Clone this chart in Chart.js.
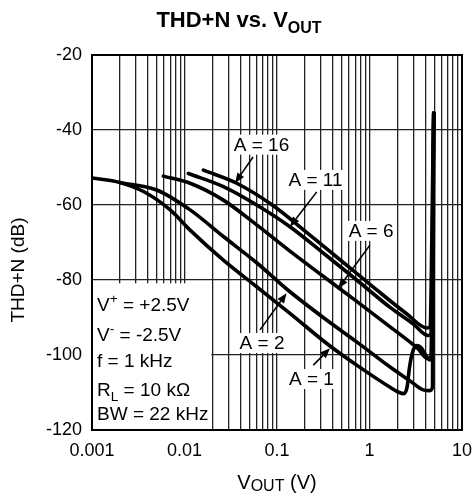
<!DOCTYPE html>
<html>
<head>
<meta charset="utf-8">
<script src="https://cdn.jsdelivr.net/npm/chart.js@4/dist/chart.umd.min.js"></script>
<style>
  html,body{margin:0;padding:0;background:#fff}
  #wrap{width:474px;height:499px}
</style>
</head>
<body>
<div id="wrap"><canvas id="thdChart" width="474" height="499"></canvas></div>
<script>
// THD+N vs VOUT
const decadeTicks = [0.001, 0.01, 0.1, 1, 10];
const yTicks = [-120, -100, -80, -60, -40, -20];

const a1V  = [0.001, 0.002, 0.0036, 0.007, 0.0115, 0.0263, 0.0603, 0.138, 0.374, 0.727, 1.67, 2.1, 2.35, 2.55, 2.7, 2.9, 3.2, 3.6, 4.1, 4.5, 4.7, 4.95];
const a1dB = [-52.8, -54.0, -56.4, -61.3, -66.7, -74.7, -81.8, -88.9, -97.6, -102.7, -108.6, -110.0, -110.3, -108.5, -103.5, -99.5, -97.5, -98.0, -100.2, -101.3, -101.0, -35.5];

const a2V  = [0.002, 0.005, 0.0115, 0.0263, 0.0603, 0.127, 0.316, 0.727, 1.67, 2.74, 3.8, 4.5, 4.8, 4.97];
const a2dB = [-54.0, -56.0, -61.3, -68.4, -75.4, -82.4, -90.0, -96.5, -103.2, -106.9, -109.3, -109.5, -108.5, -35.5];

const a6V  = [0.0059, 0.0115, 0.0263, 0.0603, 0.138, 0.316, 0.727, 1.67, 3.3, 4.3, 4.6, 4.95];
const a6dB = [-52.3, -54.2, -58.7, -65.3, -72.3, -79.0, -85.7, -92.5, -98.2, -101.0, -101.0, -35.5];

const a11V  = [0.011, 0.0263, 0.0603, 0.138, 0.316, 0.727, 1.67, 3.0, 4.3, 4.6, 4.95];
const a11dB = [-51.6, -55.1, -60.0, -65.8, -72.8, -80.0, -87.3, -91.8, -94.8, -94.5, -35.5];

const a16V  = [0.016, 0.0367, 0.0912, 0.209, 0.48, 1.1, 2.52, 4.2, 4.5, 4.93];
const a16dB = [-50.7, -54.2, -60.2, -67.3, -74.6, -81.9, -89.0, -92.8, -92.5, -35.5];

// curve labels: text, label centre (V, dB), arrow from/to (V, dB)
const curveLabels = [
  {text:'A = 16', at:[0.068, -43.9],  from:[0.0551, -47.2], to:[0.0352, -54.1]},
  {text:'A = 11', at:[0.261, -53.3],  from:[0.269, -56.5],  to:[0.138, -65.8]},
  {text:'A = 6',  at:[1.04, -66.9],   from:[1.01, -70.7],   to:[0.46, -82.2]},
  {text:'A = 2',  at:[0.0689, -96.8], from:[0.0655, -93.3], to:[0.127, -83.5]},
  {text:'A = 1',  at:[0.236, -106.4], from:[0.247, -102.7], to:[0.374, -98.2]}
];

// conditions box text, one baseline (dB) per line
const condLines = [
  {dB:-88.3,  parts:[{t:'V'},{t:'+',sup:true},{t:' = +2.5V'}]},
  {dB:-96.3,  parts:[{t:'V'},{t:'-',sup:true},{t:' = -2.5V'}]},
  {dB:-103.2, parts:[{t:'f = 1 kHz'}]},
  {dB:-110.9, parts:[{t:'R'},{t:'L',sub:true},{t:' = 10 k\u03A9'}]},
  {dB:-117.3, parts:[{t:'BW = 22 kHz'}]}
];
const condBox = {v0:0.001, v1:0.02, dB0:-120, dB1:-80.6};

const FONT = "'Liberation Sans', Arial, Helvetica, sans-serif";

const pts = (vs, ds) => vs.map((v,i)=>({x:v, y:ds[i]}));

// grid values 1..9 per decade
const gridVals = [];
decadeTicks.slice(0,-1).forEach(d=>{ for(let m=1;m<10;m++) gridVals.push(+(d*m).toPrecision(3)); });
gridVals.push(10);

function rich(ctx, parts, x, y, size, opts={}){
  const weight = opts.bold ? 'bold ' : '';
  const w = parts.map(p=>{
    const s = (p.sup||p.sub) ? (p.small||size*0.72) : size;
    ctx.font = weight + s + 'px ' + FONT;
    return ctx.measureText(p.t).width;
  });
  const total = w.reduce((a,b)=>a+b,0);
  let cx = opts.align==='center' ? x - total/2 : x;
  ctx.textBaseline = 'alphabetic';
  ctx.textAlign = 'left';
  parts.forEach((p,i)=>{
    const s = (p.sup||p.sub) ? (p.small||size*0.72) : size;
    ctx.font = weight + s + 'px ' + FONT;
    let dy = 0;
    if(p.sup) dy = -size*0.45;
    if(p.sub) dy = size*(p.drop||0.28);
    ctx.fillText(p.t, cx, y+dy);
    cx += w[i];
  });
  return total;
}

const decor = {
  id:'decor',
  beforeDatasetsDraw(chart){
    const {ctx, scales:{x,y}} = chart;
    ctx.save();
    ctx.fillStyle = '#fff';
    // conditions box covers the grid
    const bx0 = x.getPixelForValue(condBox.v0)+1, bx1 = x.getPixelForValue(condBox.v1)-1;
    const by0 = y.getPixelForValue(condBox.dB1)+1, by1 = y.getPixelForValue(condBox.dB0)-1;
    ctx.fillRect(bx0, by0, bx1-bx0, by1-by0);
    ctx.fillStyle = '#000';
    condLines.forEach(l=>{
      rich(ctx, l.parts, bx0+4, y.getPixelForValue(l.dB), 19);
    });
    // curve labels on white
    ctx.font = '19px ' + FONT;
    curveLabels.forEach(l=>{
      const px = x.getPixelForValue(l.at[0]), py = y.getPixelForValue(l.at[1]);
      const w = ctx.measureText(l.text).width;
      ctx.fillStyle = '#fff';
      ctx.fillRect(px - w/2 - 2, py - 10, w + 4, 20);
      ctx.fillStyle = '#000';
      ctx.textAlign = 'center';
      ctx.textBaseline = 'middle';
      ctx.fillText(l.text, px, py+1);
    });
    ctx.restore();
  },
  afterDatasetsDraw(chart){
    const {ctx, chartArea:a, scales:{x,y}} = chart;
    ctx.save();
    // arrows
    curveLabels.forEach(l=>{
      const x0 = x.getPixelForValue(l.from[0]), y0 = y.getPixelForValue(l.from[1]);
      const x1 = x.getPixelForValue(l.to[0]),   y1 = y.getPixelForValue(l.to[1]);
      const ang = Math.atan2(y1-y0, x1-x0), hl = 10, hw = 4;
      const bx = x1 - hl*Math.cos(ang), by = y1 - hl*Math.sin(ang);
      ctx.strokeStyle = '#000'; ctx.lineWidth = 1.6;
      ctx.beginPath(); ctx.moveTo(x0,y0); ctx.lineTo(bx,by); ctx.stroke();
      ctx.fillStyle = '#000';
      ctx.beginPath();
      ctx.moveTo(x1,y1);
      ctx.lineTo(bx + hw*Math.sin(ang), by - hw*Math.cos(ang));
      ctx.lineTo(bx - hw*Math.sin(ang), by + hw*Math.cos(ang));
      ctx.closePath(); ctx.fill();
    });
    // frame
    ctx.strokeStyle = '#000'; ctx.lineWidth = 2;
    ctx.strokeRect(a.left, a.top, a.right-a.left, a.bottom-a.top);
    ctx.restore();
  },
  afterDraw(chart){
    const {ctx, chartArea:a} = chart;
    ctx.save();
    ctx.fillStyle = '#000';
    rich(ctx, [{t:'THD+N vs. V'},{t:'OUT',sub:true,small:16,drop:0.25}], 239, 27, 22, {bold:true, align:'center'});
    rich(ctx, [{t:'V'},{t:'OUT',sub:true,small:16,drop:0.12},{t:' (V)'}], (a.left+a.right)/2, 489, 20, {align:'center'});
    ctx.translate(24, 270);
    ctx.rotate(-Math.PI/2);
    rich(ctx, [{t:'THD+N (dB)'}], 0, 0, 19, {align:'center'});
    ctx.restore();
  }
};

const line = (data) => ({
  data, borderColor:'#000', borderWidth:3.6, pointRadius:0,
  fill:false, cubicInterpolationMode:'monotone', borderCapStyle:'round', borderJoinStyle:'round'
});

new Chart(document.getElementById('thdChart'), {
  type:'line',
  data:{ datasets:[
    line(pts(a1V, a1dB)),
    line(pts(a2V, a2dB)),
    line(pts(a6V, a6dB)),
    line(pts(a11V, a11dB)),
    line(pts(a16V, a16dB))
  ]},
  options:{
    responsive:false, animation:false, devicePixelRatio:1,
    layout:{ padding:{left:0, top:55, right:12, bottom:0} },
    plugins:{ legend:{display:false}, tooltip:{enabled:false}, title:{display:false} },
    scales:{
      x:{
        type:'logarithmic', min:0.001, max:10,
        afterBuildTicks: ax => { ax.ticks = gridVals.map(v=>({value:v})); },
        afterFit: ax => { ax.height = 69; ax.paddingLeft = 0; ax.paddingRight = 0; },
        grid:{ color:'#222', lineWidth:1.3, drawTicks:false },
        border:{ color:'#000', width:2 },
        ticks:{ autoSkip:false, maxRotation:0, padding:10, color:'#000',
          font:{family:FONT, size:18},
          callback: v => decadeTicks.includes(v) ? String(v) : '' }
      },
      y:{
        min:-120, max:-20,
        afterBuildTicks: ax => { ax.ticks = yTicks.map(v=>({value:v})); },
        afterFit: ax => { ax.width = 92; },
        grid:{ color:'#222', lineWidth:1.3, drawTicks:false },
        border:{ color:'#000', width:2 },
        ticks:{ padding:10, color:'#000', font:{family:FONT, size:18} }
      }
    }
  },
  plugins:[decor]
});
</script>
</body>
</html>
